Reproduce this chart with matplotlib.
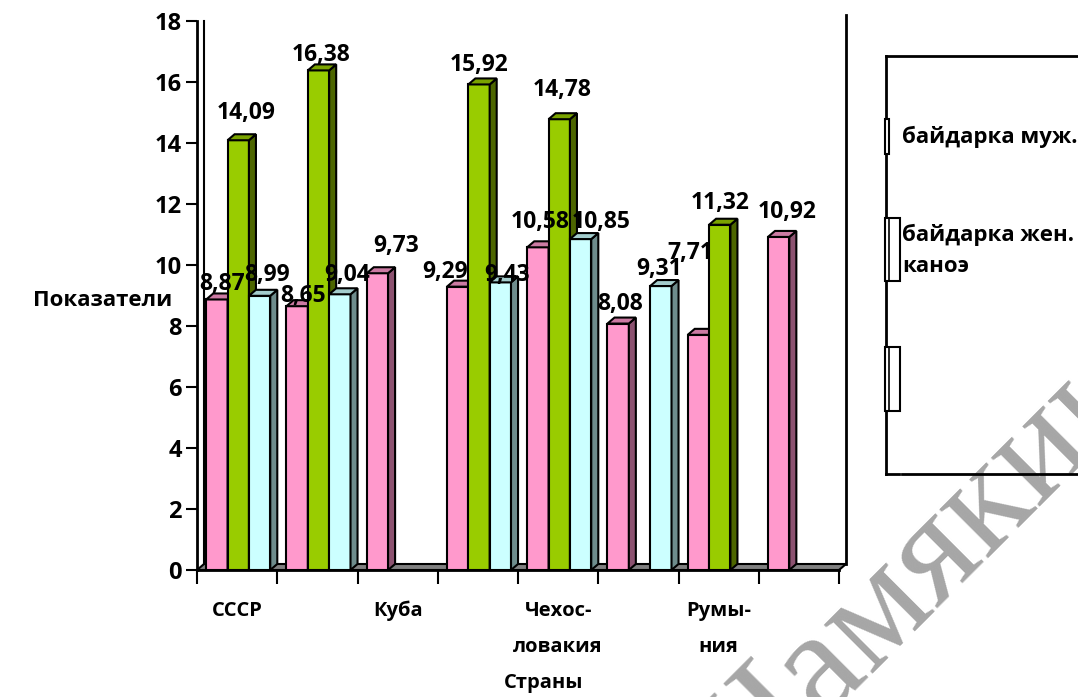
import numpy as np
import matplotlib.pyplot as plt
from matplotlib.patches import Polygon, Rectangle
from matplotlib.lines import Line2D

plt.rcParams['font.family'] = ['Open Sans', 'DejaVu Sans']
plt.rcParams['font.weight'] = 'bold'

# data
countries = ['СССР', '', 'Куба', '', 'Чехос-\nловакия', '', 'Румы-\nния', '']
series_names = ['байдарка муж.', 'байдарка жен.', 'каноэ']
kayak_men = [8.87, 8.65, 9.73, 9.29, 10.58, 8.08, 7.71, 10.92]
kayak_women = [14.09, 16.38, np.nan, 15.92, 14.78, np.nan, 11.32, np.nan]
canoe = [8.99, 9.04, np.nan, 9.43, 10.85, 9.31, np.nan, np.nan]
values = [kayak_men, kayak_women, canoe]

# front / side / top colours of each series
colors = [('#FF99CC', '#8C5270', '#CC7AA3'),
          ('#99CC00', '#4D6600', '#7AA300'),
          ('#CCFFFF', '#6E8C8C', '#A3CCCC')]

# label shifts in pixels (dx from bar centre, dy above bar top)
label_shift = [
    [(5, 15), (6, 10), (19, 27), (-13, 15), (2, 25), (2, 20), (-8, 82), (8, 25)],
    [(8, 27), (3, 15), None, (0, 19), (3, 29), None, (0, 22), None],
    [(7, 21), (7, 19), None, (7, 7), (21, 17), (-2, 17), None, None],
]

W, H = 1078, 697
fig = plt.figure(figsize=(W / 100, H / 100), dpi=100)


def fx(px):
    return px / W


def fy(py):
    return 1 - py / H


ax = fig.add_axes([fx(197), fy(570), (839 - 197) / W, (570 - 21) / H])
ax.set_xlim(0, 8)
ax.set_ylim(0, 18)

DX = 7 / 80.0      # depth offset in x units
DY = 6 / 30.5      # depth offset in y units
OFF = 0.115        # gap before first bar of a group
BW = 0.266         # bar width

# floor and back wall edge
ax.add_patch(Polygon([(0, 0), (8, 0), (8 + DX, DY), (DX, DY)], closed=True,
                     fc='#808080', ec='black', lw=1.5, clip_on=False, zorder=1))
ax.add_line(Line2D([8 + DX, 8 + DX], [DY, 18 + DY], color='black', lw=2, clip_on=False))
ax.add_line(Line2D([DX, DX], [DY, 18], color='black', lw=1.5, clip_on=False))

z = 2
for i in range(len(countries)):
    for s, vals in enumerate(values):
        v = vals[i]
        if np.isnan(v):
            continue
        front, side, top = colors[s]
        x0 = i + OFF + s * BW
        ax.add_patch(Rectangle((x0, 0), BW, v, fc=front, ec='black', lw=1.5,
                               zorder=z, clip_on=False))
        ax.add_patch(Polygon([(x0 + BW, 0), (x0 + BW + DX, DY), (x0 + BW + DX, v + DY), (x0 + BW, v)],
                             closed=True, fc=side, ec='black', lw=1.5, zorder=z, clip_on=False))
        ax.add_patch(Polygon([(x0, v), (x0 + BW, v), (x0 + BW + DX, v + DY), (x0 + DX, v + DY)],
                             closed=True, fc=top, ec='black', lw=1.5, zorder=z, clip_on=False))
        z += 1

for i in range(len(countries)):
    for s, vals in enumerate(values):
        v = vals[i]
        if np.isnan(v):
            continue
        x0 = i + OFF + s * BW
        dx, dy = label_shift[s][i]
        ax.annotate(f'{v:.2f}'.replace('.', ','), xy=(x0 + BW / 2, v), xytext=(dx, dy),
                    textcoords='offset pixels', ha='center', va='center',
                    fontsize=16.5, fontweight='bold', zorder=100, annotation_clip=False)

for sp in ['top', 'right']:
    ax.spines[sp].set_visible(False)
ax.spines['left'].set_linewidth(2)
ax.spines['bottom'].set_linewidth(2)
ax.set_yticks(range(0, 19, 2))
ax.set_xticks(range(0, 9))
ax.set_xticklabels([])
ax.tick_params(axis='y', direction='out', length=8, width=1.5, labelsize=17, pad=3)
ax.tick_params(axis='x', direction='out', length=10, width=1.5)
ax.patch.set_alpha(0)

# category names under every group
for i, name in enumerate(countries):
    if name:
        ax.text(i + 0.5, -(601 - 570) / 549, name, transform=ax.get_xaxis_transform(),
                ha='center', va='top', fontsize=14.5, linespacing=2.1, zorder=10)

fig.text(fx(103), fy(301), 'Показатели', ha='center', va='center', fontsize=16)
fig.text(fx(544), fy(683), 'Страны', ha='center', va='center', fontsize=14.5)

# legend frame
lk = dict(color='black', lw=2, transform=fig.transFigure, zorder=5)
fig.add_artist(Line2D([fx(886), fx(886)], [fy(55.7), fy(474)], **lk))
fig.add_artist(Line2D([fx(886), fx(1080)], [fy(55.7), fy(55.7)], **lk))
fig.add_artist(Line2D([fx(886), fx(899)], [fy(474), fy(474)], **lk))
fig.add_artist(Line2D([fx(902), fx(1080)], [fy(474), fy(474)], **lk))
keys = [(884.7, 119, 4.5, 35), (884.7, 218, 15, 63), (884.7, 347, 15, 64)]
for k, (x, y, w, h) in enumerate(keys):
    fig.add_artist(Rectangle((fx(x), fy(y + h)), w / W, h / H, fc='white', ec='black',
                             lw=1.5, transform=fig.transFigure, zorder=6))
    if k > 0:
        fig.add_artist(Line2D([fx(888.5), fx(888.5)], [fy(y), fy(y + h)], color='black',
                              lw=1.2, transform=fig.transFigure, zorder=7))
for name, y in zip(series_names, [136.7, 235, 266.7]):
    fig.text(fx(902), fy(y), name, ha='left', va='center', fontsize=16, zorder=7)

fig.text(fx(716), fy(826), 'Шамякина', family=['Liberation Serif', 'DejaVu Serif'],
         fontweight='normal', fontsize=108, color='#A6A6A6', rotation=45,
         rotation_mode='anchor', ha='left', va='baseline', zorder=1)

fig.savefig('out.png', dpi=100)
